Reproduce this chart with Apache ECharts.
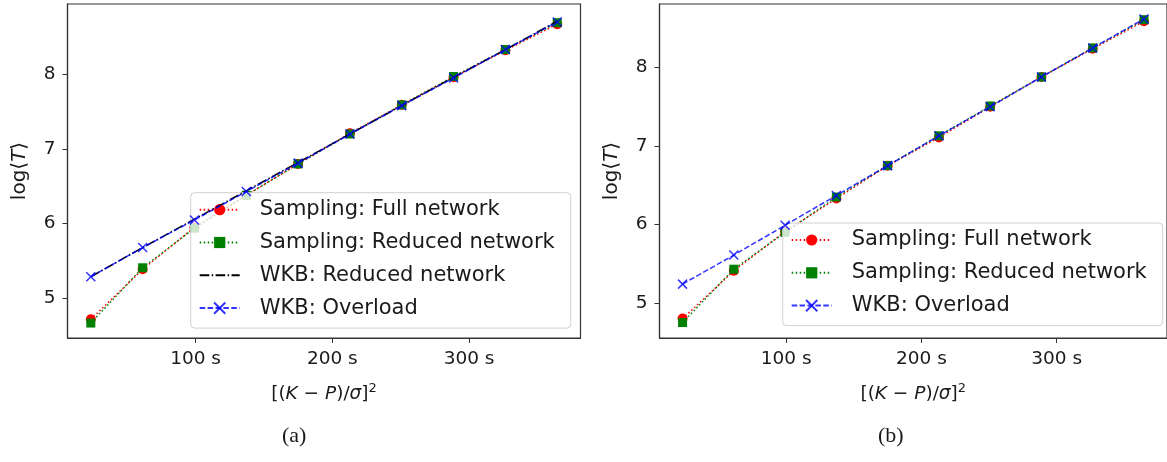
<!DOCTYPE html>
<html><head><meta charset="utf-8">
<script src="https://cdn.jsdelivr.net/npm/echarts@6/dist/echarts.min.js"></script>
<style>html,body{margin:0;padding:0;background:#fff}#c{width:1167px;height:462px}</style>
</head><body><div id="c"></div>
<script>
const xVals = [23.4, 61.3, 99.2, 137.1, 175.0, 212.9, 250.8, 288.7, 326.6, 364.5];
const xTicks = [100, 200, 300];
const yTicks = [5, 6, 7, 8];
// panel (a)
const fullA    = [4.72, 5.39, 5.95, 6.38, 6.80, 7.21, 7.59, 7.96, 8.32, 8.67];
const reducedA = [4.67, 5.41, 5.94, 6.38, 6.80, 7.20, 7.59, 7.97, 8.33, 8.69];
const wkbRedA  = [5.29, 5.68, 6.06, 6.44, 6.82, 7.20, 7.58, 7.96, 8.33, 8.71];
const wkbOverA = [5.29, 5.68, 6.05, 6.43, 6.81, 7.20, 7.58, 7.95, 8.33, 8.70];
// panel (b)
const fullB    = [4.80, 5.41, 5.91, 6.33, 6.75, 7.11, 7.50, 7.88, 8.24, 8.59];
const reducedB = [4.75, 5.43, 5.90, 6.35, 6.75, 7.13, 7.51, 7.88, 8.25, 8.61];
const wkbOverB = [5.24, 5.61, 5.99, 6.37, 6.75, 7.13, 7.50, 7.88, 8.25, 8.62];

const names = ['Sampling: Full network','Sampling: Reduced network','WKB: Reduced network','WKB: Overload'];
const FONT = 'DejaVu Sans';
const TXT = '#1a1a1a';
const pair = ys => xVals.map((x,i)=>[x, ys[i]]);

function xAxis(gi){
  return {type:'value', gridIndex:gi, min:6.35, max:381.5,
    name:'[({i|K} − {i|P})/{i|σ}]{s|2}', nameLocation:'middle', nameGap:44,
    nameTextStyle:{fontFamily:FONT, fontSize:18.5, color:TXT,
      rich:{i:{fontStyle:'italic',fontFamily:FONT,fontSize:18.5,color:TXT}, s:{fontSize:13,fontFamily:FONT,verticalAlign:'top',padding:[0,0,11,0],color:TXT}}},
    splitLine:{show:false},
    axisLine:{show:true,onZero:false,lineStyle:{color:'#333',width:1.2}},
    axisTick:{show:true,length:5,customValues:xTicks,lineStyle:{color:'#333'}},
    axisLabel:{customValues:xTicks, formatter:v=>v+' s', fontFamily:FONT, fontSize:18.5, color:TXT, margin:12}
  };
}
function yAxis(gi,min,max){
  return {type:'value', gridIndex:gi, min:min, max:max,
    name:'log⟨{i|T}⟩', nameLocation:'middle', nameGap:38, nameRotate:90,
    nameTextStyle:{fontFamily:FONT, fontSize:20, color:TXT,
      rich:{i:{fontStyle:'italic',fontFamily:FONT,fontSize:20,color:TXT}}},
    splitLine:{show:false},
    axisLine:{show:true,onZero:false,lineStyle:{color:'#333',width:1.2}},
    axisTick:{show:true,length:5,customValues:yTicks,lineStyle:{color:'#333'}},
    axisLabel:{customValues:yTicks, fontFamily:FONT, fontSize:18.5, color:TXT, margin:12}
  };
}
const RED='#ff0000', GREEN='#008000', BLUE='rgba(0,0,255,0.8)';
const XSYM='path://M0 0L10 10M10 0L0 10';
function sFull(gi,d){return {name:names[0],type:'line',xAxisIndex:gi,yAxisIndex:gi,data:pair(d),
  symbol:'circle',symbolSize:10,showSymbol:true,lineStyle:{color:RED,width:1.5,type:[1.5,2.5]},itemStyle:{color:RED,borderWidth:0},z:2};}
function sRed(gi,d){return {name:names[1],type:'line',xAxisIndex:gi,yAxisIndex:gi,data:pair(d),
  symbol:'rect',symbolSize:9,lineStyle:{color:GREEN,width:1.5,type:[1.5,2.5]},itemStyle:{color:GREEN,borderWidth:0},z:3};}
function sWkbR(gi,d){return {name:names[2],type:'line',xAxisIndex:gi,yAxisIndex:gi,data:pair(d),
  symbol:'none',lineStyle:{color:'#000',width:1.5,type:[9.6,2.4,1.5,2.4]},itemStyle:{color:'#000'},z:4};}
function sWkbO(gi,d){return {name:names[3],type:'line',xAxisIndex:gi,yAxisIndex:gi,data:pair(d),
  symbol:XSYM,symbolSize:9,lineStyle:{color:BLUE,width:1.5,type:[5.5,2.4]},
  itemStyle:{color:'none',borderColor:BLUE,borderWidth:1.5},z:5};}

function legend(left,top,data){
  return {show:true, orient:'vertical', left:left, top:top, data:data,
    backgroundColor:'rgba(255,255,255,0.8)', borderColor:'#d0d0d0', borderWidth:1, borderRadius:4,
    padding:[6,16,9,8], itemGap:10.8, itemWidth:40, itemHeight:14,
    textStyle:{fontFamily:FONT, fontSize:21, color:TXT, lineHeight:22, padding:[0,0,0,15]},
    selectedMode:false};
}

const chart = echarts.init(document.getElementById('c'), null, {renderer:'canvas'});
chart.setOption({
  animation:false,
  backgroundColor:'#fff',
  grid:[
    {left:67.5, top:4, width:513, height:334, show:true, borderColor:'#333', borderWidth:1.2, containLabel:false},
    {left:659.5, top:4, width:515, height:334, show:true, borderColor:'#333', borderWidth:1.2, containLabel:false}
  ],
  xAxis:[xAxis(0), xAxis(1)],
  yAxis:[yAxis(0,4.47,8.94), yAxis(1,4.553,8.81)],
  legend:[
    legend(190.7,192.7,[names[0],names[1],{name:names[2],itemStyle:{opacity:0}},names[3]]),
    legend(782.7,223,[names[0],names[1],names[3]])
  ],
  series:[
    sFull(0,fullA), sRed(0,reducedA), sWkbR(0,wkbRedA), sWkbO(0,wkbOverA),
    sFull(1,fullB), sRed(1,reducedB), sWkbO(1,wkbOverB)
  ],
  graphic:[
    {type:'text', left:282, top:425, style:{text:'(a)', font:'22px "Liberation Serif"', fill:TXT}},
    {type:'text', left:878, top:425, style:{text:'(b)', font:'22px "Liberation Serif"', fill:TXT}}
  ]
});
</script></body></html>
